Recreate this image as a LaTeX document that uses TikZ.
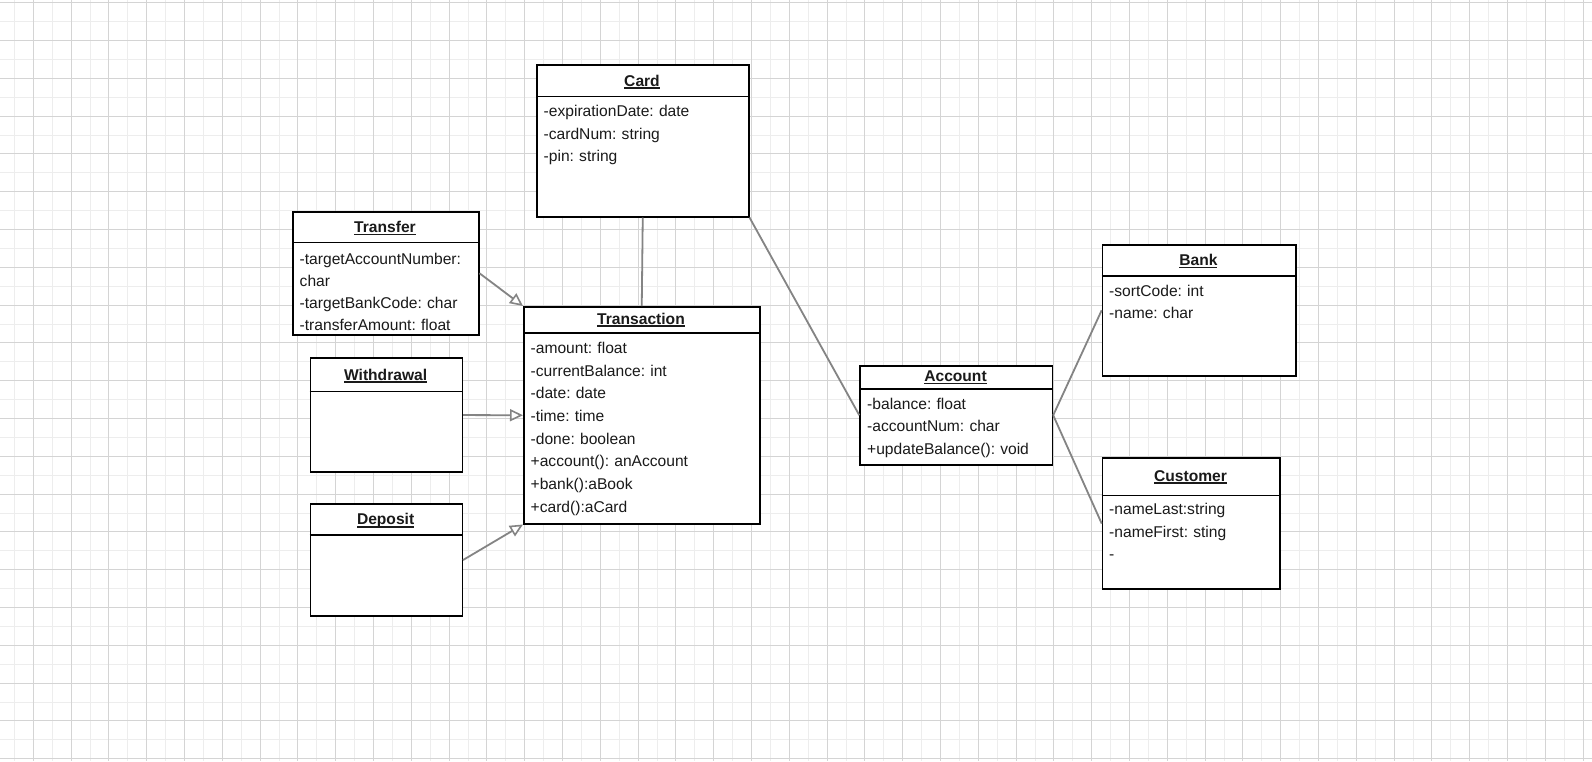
\documentclass[tikz,border=0pt]{standalone}
\usepackage{fontspec}
\setmainfont{Liberation Sans}
\usetikzlibrary{arrows.meta,calc}
\definecolor{linegray}{HTML}{848484}
\definecolor{gridmajor}{HTML}{D4D4D4}
\definecolor{gridminor}{HTML}{EDEDED}
\definecolor{inkblack}{HTML}{1A1A1A}
\newcommand{\clsul}[1]{\setbox0\hbox{#1}\rlap{\rule[-2.8pt]{\wd0}{1.4pt}}\box0}
\tikzstyle{classbox}  = [draw=black, line width=1.5pt, fill=white, inner sep=0pt, anchor=north west]
\tikzstyle{classname} = [inner sep=0pt, anchor=base, font=\fontsize{15.6}{18}\selectfont\bfseries, text=inkblack]
\tikzstyle{attrs}     = [inner sep=0pt, anchor=base west, align=left, text width=220pt, font=\fontsize{15.6}{22.6}\selectfont\frenchspacing, text=inkblack]
\tikzstyle{sepline}   = [draw=black, line width=1.5pt]
\tikzstyle{assoc}     = [draw=linegray, line width=1.8pt]
\tikzstyle{inherit}   = [assoc, -{Triangle[length=13pt,width=12pt,fill=white,line width=1.6pt]}]

\begin{document}
\begin{tikzpicture}[x=1pt,y=-1pt]
		\useasboundingbox (0,0) rectangle (1592,761);
		\fill[white] (0,0) rectangle (1592,761);

		% grid
		\foreach \x in {14.4,52.2,...,1592} \draw[gridminor, line width=1pt] (\x,0) -- (\x,761);
		\foreach \y in {21.6,59.4,...,761} \draw[gridminor, line width=1pt] (0,\y) -- (1592,\y);
		\foreach \x in {33.3,71.1,...,1592} \draw[gridmajor, line width=1pt] (\x,0) -- (\x,761);
		\foreach \y in {2.7,40.5,...,761} \draw[gridmajor, line width=1pt] (0,\y) -- (1592,\y);

		% Card
		\node[classbox, minimum width=212pt, minimum height=152pt] (card) at (536,64) {};
		\draw[sepline] ([yshift=-32.7pt]card.north west) -- ([yshift=-32.7pt]card.north east);
		\node[classname] (cardname) at (642,86) {\clsul{Card}};
		\node[attrs] (cardattrs) at (543.5,116.7) {-expirationDate: date\\-cardNum: string\\-pin: string};

		% Transfer
		\node[classbox, minimum width=186pt, minimum height=123pt] (transfer) at (292,211) {};
		\draw[sepline] ([yshift=-31.7pt]transfer.north west) -- ([yshift=-31.7pt]transfer.north east);
		\node[classname] (transfername) at (385,232.5) {\clsul{Transfer}};
		\node[attrs, font=\fontsize{15.6}{22}\selectfont\frenchspacing] (transferattrs) at (299.5,264.7) {-targetAccountNumber:\\char\\-targetBankCode: char\\-transferAmount: float};

		% Transaction
		\node[classbox, minimum width=236pt, minimum height=217pt] (transaction) at (523,306) {};
		\draw[sepline] ([yshift=-27pt]transaction.north west) -- ([yshift=-27pt]transaction.north east);
		\node[classname] (transactionname) at (641,324) {\clsul{Transaction}};
		\node[attrs, font=\fontsize{15.6}{22.7}\selectfont\frenchspacing] (transactionattrs) at (530.5,353.4) {-amount: float\\-currentBalance: int\\-date: date\\-time: time\\-done: boolean\\+account(): anAccount\\+bank():aBook\\+card():aCard};

		% Withdrawal
		\node[classbox, minimum width=152pt, minimum height=114pt] (withdrawal) at (309.5,357.3) {};
		\draw[sepline] ([yshift=-34.4pt]withdrawal.north west) -- ([yshift=-34.4pt]withdrawal.north east);
		\node[classname] (withdrawalname) at (385.6,380) {\clsul{Withdrawal}};

		% Deposit
		\node[classbox, minimum width=152pt, minimum height=112pt] (deposit) at (309.5,503.3) {};
		\draw[sepline] ([yshift=-31.7pt]deposit.north west) -- ([yshift=-31.7pt]deposit.north east);
		\node[classname] (depositname) at (385.6,524.8) {\clsul{Deposit}};

		% Account
		\node[classbox, minimum width=192.4pt, minimum height=99pt] (account) at (859.3,365) {};
		\draw[sepline] ([yshift=-24pt]account.north west) -- ([yshift=-24pt]account.north east);
		\node[classname] (accountname) at (955.5,381.5) {\clsul{Account}};
		\node[attrs] (accountattrs) at (867,409) {-balance: float\\-accountNum: char\\+updateBalance(): void};

		% Bank
		\node[classbox, minimum width=193.3pt, minimum height=131pt] (bank) at (1101.7,244) {};
		\draw[sepline] ([yshift=-32pt]bank.north west) -- ([yshift=-32pt]bank.north east);
		\node[classname] (bankname) at (1198.4,265.6) {\clsul{Bank}};
		\node[attrs] (bankattrs) at (1109,296) {-sortCode: int\\-name: char};

		% Customer
		\node[classbox, minimum width=177.6pt, minimum height=131pt] (customer) at (1101.7,457.3) {};
		\draw[sepline] ([yshift=-38.4pt]customer.north west) -- ([yshift=-38.4pt]customer.north east);
		\node[classname] (customername) at (1190.5,481) {\clsul{Customer}};
		\node[attrs] (customerattrs) at (1109,514.5) {-nameLast:string\\-nameFirst: sting\\-};

		% associations
		\draw[assoc] (card.south) -- (transaction.north);
		\draw[assoc] (card.south east) -- (account.west);
		\draw[assoc] (account.east) -- (bank.west);
		\draw[assoc] (account.east) -- (customer.west);

		% generalisations
		\draw[inherit] (transfer.east) -- (transaction.north west);
		\draw[inherit] (withdrawal.east) -- (transaction.west);
		\draw[inherit] (deposit.east) -- (transaction.south west);
	\end{tikzpicture}
\end{document}
